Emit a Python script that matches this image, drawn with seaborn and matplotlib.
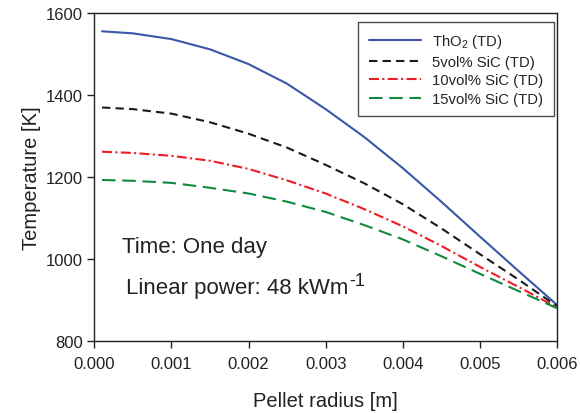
import matplotlib
matplotlib.use("Agg")
import matplotlib.pyplot as plt
import numpy as np
import pandas as pd
import seaborn as sns

sns.set_theme(style="ticks")
plt.rcParams["font.family"] = ["Liberation Sans", "DejaVu Sans"]
plt.rcParams["mathtext.fontset"] = "custom"
plt.rcParams["mathtext.rm"] = "Liberation Sans"
plt.rcParams["mathtext.it"] = "Liberation Sans:italic"

# Pellet radius [m]
radius = [0.0001, 0.0005, 0.001, 0.0015, 0.002, 0.0025, 0.003,
          0.0035, 0.004, 0.0045, 0.005, 0.0055, 0.006]

# Temperature [K]
temp_tho2 = [1556, 1551, 1537, 1512, 1476, 1428, 1366, 1298, 1222, 1140, 1055, 971, 888]
temp_sic5 = [1370, 1366, 1355, 1334, 1306, 1272, 1230, 1185, 1134, 1075, 1012, 950, 885]
temp_sic10 = [1262, 1259, 1252, 1240, 1220, 1192, 1160, 1122, 1080, 1032, 981, 932, 882]
temp_sic15 = [1193, 1191, 1186, 1174, 1160, 1140, 1115, 1083, 1048, 1007, 964, 922, 880]

series_labels = ["ThO$_2$ (TD)", "5vol% SiC (TD)", "10vol% SiC (TD)", "15vol% SiC (TD)"]
series_values = [temp_tho2, temp_sic5, temp_sic10, temp_sic15]

COLORS = ["#3a56a8", "#1a1a1a", "#ee1c24", "#0f8a3e"]
DASHES = ["", (4, 2.5), (4.8, 1.6, 1, 1.6), (6.5, 3.2)]

frames = []
for label, values in zip(series_labels, series_values):
    frames.append(pd.DataFrame({"radius": radius, "temperature": values, "series": label}))
plot_df = pd.concat(frames, ignore_index=True)

fig = plt.figure(figsize=(5.8, 4.14), dpi=100)
ax = fig.add_axes([0.1626, 0.174, 0.7977, 0.7915])

sns.lineplot(
    data=plot_df,
    x="radius",
    y="temperature",
    hue="series",
    style="series",
    hue_order=series_labels,
    style_order=series_labels,
    palette=dict(zip(series_labels, COLORS)),
    dashes=dict(zip(series_labels, DASHES)),
    linewidth=1.5,
    errorbar=None,
    legend=False,
    ax=ax,
)

ax.set_xlim(0, 0.006)
ax.set_ylim(800, 1600)
xticks = np.arange(0, 0.0061, 0.001)
ax.set_xticks(xticks)
ax.set_xticklabels([f"{v:.3f}" for v in xticks])
ax.set_yticks(np.arange(800, 1601, 200))
ax.set_xlabel("Pellet radius [m]", fontsize=14.5, color="#222222", labelpad=14)
ax.set_ylabel("Temperature [K]", fontsize=14.5, color="#222222", labelpad=3)
ax.tick_params(axis="both", direction="out", length=5, width=1, labelsize=12,
               colors="#222222", top=False, right=False)
ax.tick_params(axis="x", pad=6)
for side in ["left", "right", "top", "bottom"]:
    ax.spines[side].set_visible(True)
    ax.spines[side].set_color("#222222")
    ax.spines[side].set_linewidth(1.0)

leg = ax.legend(
    ax.lines[:4],
    series_labels,
    loc="upper right",
    bbox_to_anchor=(0.9935, 0.9735),
    borderaxespad=0,
    fontsize=10.7,
    fancybox=False,
    frameon=True,
    edgecolor="#222222",
    handlelength=3.5,
    handletextpad=0.8,
    labelspacing=0.3,
    borderpad=0.7,
)
leg.get_frame().set_linewidth(1.0)

ax.text(0.00036, 1016, "Time: One day", fontsize=16, color="#222222")
power = ax.text(0.00041, 918, "Linear power: 48 kWm", fontsize=16, color="#222222")

# superscript "-1" placed right after the main text
fig.canvas.draw()
bbox = power.get_window_extent()
ax.annotate("-1", xy=(bbox.x1, bbox.y0), xycoords="figure pixels",
            xytext=(0.5, 9), textcoords="offset points",
            fontsize=13, color="#222222", ha="left", va="baseline")

fig.savefig("out.png", dpi=100)
plt.close(fig)
